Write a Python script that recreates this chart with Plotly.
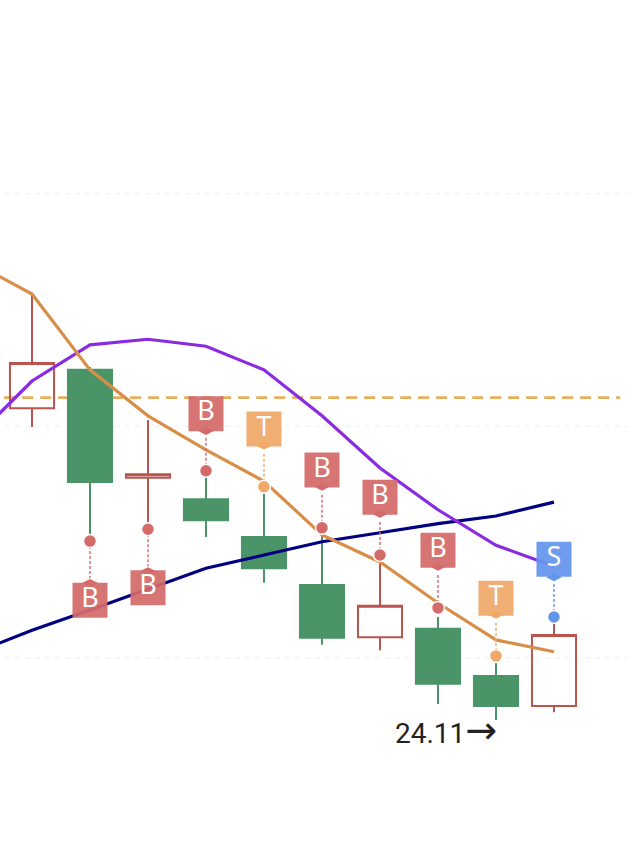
import plotly.graph_objects as go

# Candles
idx = [0, 1, 2, 3, 4, 5, 6, 7, 8, 9]
open_ = [28.59, 29.14, 27.59, 27.28, 26.74, 26.05, 25.30, 25.42, 24.74, 24.31]
close = [29.24, 27.53, 27.64, 26.98, 26.29, 25.29, 25.75, 24.63, 24.31, 25.33]
high = [30.24, 29.18, 28.42, 27.59, 27.36, 26.80, 26.38, 25.59, 24.93, 25.49]
low = [28.32, 26.75, 26.94, 26.74, 26.08, 25.19, 25.11, 24.34, 24.11, 24.22]

# Moving averages (first point is off-canvas to the left)
ma_x = [-1, 0, 1, 2, 3, 4, 5, 6, 7, 8, 9]
ma_orange = [30.68, 30.23, 29.14, 28.48, 27.99, 27.54, 26.77, 26.38, 25.79, 25.26, 25.09]
ma_purple = [28.15, 28.98, 29.50, 29.58, 29.48, 29.14, 28.48, 27.73, 27.13, 26.62, 26.32]
ma_navy = [25.07, 25.40, 25.69, 25.99, 26.29, 26.48, 26.67, 26.80, 26.93, 27.04, 27.24]

# Signals
sig_x = [1, 2, 3, 4, 5, 6, 7, 8, 9]
sig_text = ["B", "B", "B", "T", "B", "B", "B", "T", "S"]
sig_dot = [26.68, 26.85, 27.69, 27.46, 26.87, 26.48, 25.72, 25.03, 25.59]
sig_label = [25.83, 26.01, 28.51, 28.29, 27.70, 27.31, 26.55, 25.86, 26.42]
sig_tip = [26.15, 26.32, 28.19, 27.96, 27.37, 26.98, 26.21, 25.53, 26.09]
sig_pointer = [26.08, 26.25, 28.26, 28.05, 27.46, 27.07, 26.31, 25.62, 26.16]

grid_values = [25.0, 28.33, 31.67]
grid_x = [-0.466, 10.28]
dash_value = 28.74
dash_x = [-0.48, 10.14]
low_text = "24.11"
low_arrow = "→"

GREEN = "#4a9468"
RED = "#b9544e"
SIG = {"B": "#d46a6a", "T": "#f0a868", "S": "#6495ed"}
sig_colors = [SIG[t] for t in sig_text]

fig = go.Figure()

for g in grid_values:
    fig.add_shape(type="line", layer="below", xref="x", yref="y", x0=grid_x[0], x1=grid_x[1], y0=g, y1=g,
                  line=dict(color="#eeeeee", width=1, dash="5px,5px"))
fig.add_shape(type="line", layer="below", xref="x", yref="y", x0=dash_x[0], x1=dash_x[1], y0=dash_value, y1=dash_value,
              line=dict(color="#e8ae5e", width=2.8, dash="11px,7px"))

fig.add_trace(go.Candlestick(
    x=idx, open=open_, high=high, low=low, close=close,
    increasing=dict(line=dict(color=RED, width=2), fillcolor="rgba(255,255,255,0)"),
    decreasing=dict(line=dict(color=GREEN, width=2), fillcolor=GREEN),
    whiskerwidth=0, hoverinfo="skip",
))

for vals, col in [(ma_navy, "#000080"), (ma_purple, "#8a2be2"), (ma_orange, "#d98e48")]:
    fig.add_trace(go.Scatter(x=ma_x, y=vals, mode="lines", line=dict(color=col, width=3.2), hoverinfo="skip"))

for x, d, t, c in zip(sig_x, sig_dot, sig_tip, sig_colors):
    fig.add_trace(go.Scatter(x=[x, x], y=[d, t], mode="lines", opacity=0.7,
                             line=dict(color=c, width=2, dash="3px,2px"), hoverinfo="skip"))

fig.add_trace(go.Scatter(x=sig_x, y=sig_dot, mode="markers",
                         marker=dict(size=13, color=sig_colors, line=dict(color="white", width=1.5)), hoverinfo="skip"))
fig.add_trace(go.Scatter(x=sig_x, y=sig_pointer, mode="markers",
                         marker=dict(size=11, symbol="diamond-wide", color=sig_colors, line=dict(width=0)), hoverinfo="skip"))
fig.add_trace(go.Scatter(x=sig_x, y=sig_label, mode="markers+text", text=sig_text,
                         textposition="middle center",
                         textfont=dict(family="Noto Sans", size=27, color="white"),
                         marker=dict(size=35, symbol="square", color=sig_colors, opacity=0.93,
                                     line=dict(width=0)), hoverinfo="skip"))

fig.add_annotation(x=8, y=24.11, xref="x", yref="y",
                   text=low_text + "<span style='font-family:DejaVu Sans;font-size:38px'>" + low_arrow + "</span>",
                   showarrow=False, xanchor="right", yanchor="top", yshift=14, xshift=3,
                   font=dict(family="Roboto", size=28, color="#222222"))

fig.update_layout(
    width=640, height=855, margin=dict(l=0, r=0, t=0, b=0),
    paper_bgcolor="white", plot_bgcolor="white", showlegend=False, boxgap=0.24, boxgroupgap=0,
    xaxis=dict(range=[-0.5517, 10.483], visible=False, rangeslider=dict(visible=False), fixedrange=True),
    yaxis=dict(range=[22.170, 34.454], visible=False, fixedrange=True),
)
fig.write_html("out.html", config={"displayModeBar": False},
               post_script="document.body.style.margin='0';document.body.style.overflow='hidden';")
